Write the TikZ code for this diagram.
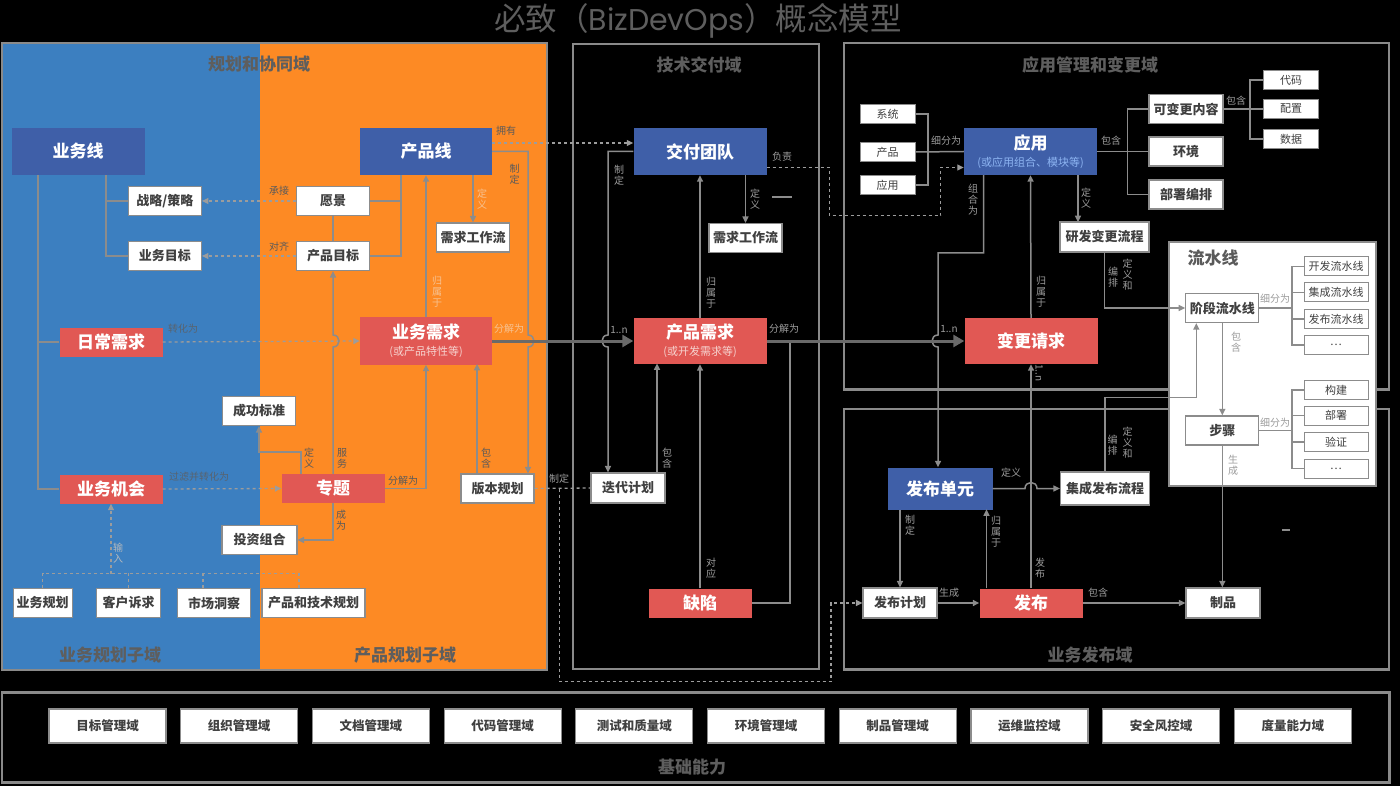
\documentclass[tikz,border=0pt]{standalone}
\usepackage{fontspec}
\setmainfont{Noto Sans CJK SC}
\newfontfamily\geofont{Poppins}
\usetikzlibrary{arrows.meta,positioning,calc}
\definecolor{bgblue}{HTML}{3C7FC0}
\definecolor{bgorange}{HTML}{FD8A24}
\definecolor{nblue}{HTML}{3F5FA8}
\definecolor{nred}{HTML}{E15854}
\definecolor{frame}{HTML}{8A8A8A}
\definecolor{wire}{HTML}{8C8C8C}
\definecolor{heavy}{HTML}{6A6A6A}
\definecolor{ttl}{HTML}{5E5E5E}
\definecolor{ink}{HTML}{404040}
\definecolor{lgray}{HTML}{9C9C9C}
\definecolor{ldark}{HTML}{5A5A5A}
\definecolor{lpale}{HTML}{F7C291}
\definecolor{lbluegray}{HTML}{58636F}
\definecolor{subred}{HTML}{F6D2CE}
\definecolor{subblue}{HTML}{8DB4F2}
\tikzset{
  dombox/.style={draw=frame, line width=2.5pt},
  dtitle/.style={font=\fontsize{17}{17}\selectfont\bfseries, text=ttl, inner sep=0pt},
  bignode/.style={minimum width=133pt, minimum height=47pt, inner sep=0pt, text=white, align=center, font=\fontsize{17}{19}\selectfont\bfseries},
  bluebox/.style={bignode, fill=nblue},
  redbox/.style={bignode, fill=nred, minimum width=103pt, minimum height=29pt},
  wbox/.style={draw=wire, fill=white, line width=1.2pt, minimum width=73pt, minimum height=29pt, inner sep=0pt, text=ink, font=\fontsize{13}{13}\selectfont\bfseries},
  sbox/.style={draw=wire, fill=white, line width=1pt, minimum width=55pt, minimum height=19pt, inner sep=0pt, text=ink, font=\fontsize{11}{11}\selectfont},
  conn/.style={draw=wire, line width=1.5pt},
  arr/.style={conn, -{Triangle[length=6.5pt,width=6pt]}},
  dline/.style={draw=lgray, line width=1.3pt, dash pattern=on 3pt off 3pt},
  darr/.style={dline, -{Triangle[length=6.5pt,width=6pt]}},
  heavyarr/.style={draw=heavy, line width=3pt, -{Triangle[length=11pt,width=12pt]}},
  lbl/.style={font=\fontsize{10}{11}\selectfont, text=lgray, inner sep=0pt, align=center},
}
\newcommand\subline[1]{{\fontsize{11}{12}\selectfont\mdseries #1}}

\begin{document}
\begin{tikzpicture}[x=1pt,y=-1pt]
\useasboundingbox (0,0) rectangle (1400,786);
\fill[black] (0,0) rectangle (1400,786);

\node[font=\fontsize{31.5}{32}\selectfont, text=ttl] (tMain) at (698,21)
  {必致（{\geofont\fontsize{30}{32}\selectfont BizDevOps}）概念模型};

% ============ domains ======================================================
\fill[bgblue] (2,43) rectangle (260,670);
\fill[bgorange] (260,43) rectangle (547,670);
\draw[dombox] (2,43) rectangle (547,670);
\draw[dombox] (573,44) rectangle (819,669);
\draw[dombox] (844,43) rectangle (1389,389.5);
\draw[dombox] (844,409) rectangle (1389,669.5);
\draw[dombox] (2,692.5) rectangle (1389.5,782.5);
\fill[white, draw=wire, line width=1.2pt] (1169,242) rectangle (1376,486);

\node[dtitle] (tPlan) at (259,64) {规划和协同域};
\node[dtitle] (tBizSub) at (110,655) {业务规划子域};
\node[dtitle] (tProdSub) at (405,655) {产品规划子域};
\node[dtitle] (tTech) at (699,65) {技术交付域};
\node[dtitle] (tApp) at (1090,65) {应用管理和变更域};
\node[dtitle] (tRel) at (1090,655) {业务发布域};
\node[dtitle] (tBase) at (692,767) {基础能力};
\node[dtitle, text=ldark] (tPipe) at (1213,258) {流水线};

% ============ planning and collaboration ===================================
\node[bluebox] (nBizLine) at (78,151.5) {业务线};
\node[wbox] (nStrategy) at (164.8,201) {战略/策略};
\node[wbox] (nBizGoal) at (164.8,256) {业务目标};
\node[redbox] (nDaily) at (111,342) {日常需求};
\node[redbox] (nOpp) at (111,489) {业务机会};
\node[wbox] (nSuccess) at (259,411) {成功标准};
\node[wbox, minimum width=75pt] (nPortfolio) at (259.5,540) {投资组合};
\node[wbox, minimum width=59pt] (nBizPlan) at (42.7,603) {业务规划};
\node[wbox, minimum width=64pt] (nCust) at (128.7,603) {客户诉求};
\node[wbox] (nMarket) at (214,603) {市场洞察};
\node[wbox, minimum width=103pt] (nProdTech) at (313.5,603) {产品和技术规划};

\node[bluebox, minimum width=132pt] (nProdLine) at (426,151.5) {产品线};
\node[wbox] (nVision) at (333,201) {愿景};
\node[wbox] (nProdGoal) at (333,256) {产品目标};
\node[wbox] (nFlowA) at (473,237.5) {需求工作流};
\node[redbox, minimum width=132pt, minimum height=47pt] (nBizReq) at (426,341)
  {业务需求\\[-2pt]\subline{\color{subred}(或产品特性等)}};
\node[redbox] (nTopic) at (333,488.5) {专题};
\node[wbox] (nRelPlan) at (497.5,488.5) {版本规划};

% ============ technical delivery (nodes) ===================================
\node[bluebox] (nTeam) at (700,151.5) {交付团队};
\node[wbox] (nFlowB) at (745.5,238) {需求工作流};
\node[redbox, minimum width=133pt, minimum height=46pt] (nProdReq) at (700,341)
  {产品需求\\[-2pt]\subline{\color{subred}(或开发需求等)}};
\node[wbox, minimum width=74pt, minimum height=30pt] (nIter) at (628,488) {迭代计划};
\node[redbox] (nDefect) at (700,603) {缺陷};

% ============ application management and change (nodes) ====================
\node[sbox] (nSys) at (887.5,114) {系统};
\node[sbox] (nProd) at (887.5,152) {产品};
\node[sbox] (nAppS) at (887.5,185) {应用};
\node[bluebox] (nApp) at (1030.5,151.5)
  {应用\\[-2pt]\subline{\color{subblue}(或应用组合、模块等)}};
\node[wbox, minimum width=74pt] (nChg) at (1186,109) {可变更内容};
\node[wbox, minimum width=74pt] (nEnv) at (1186,151.5) {环境};
\node[wbox, minimum width=74pt] (nDeploy) at (1186,194.5) {部署编排};
\node[sbox] (nCode) at (1291,80) {代码};
\node[sbox] (nConf) at (1291,109) {配置};
\node[sbox] (nData) at (1291,139) {数据};
\node[wbox, minimum width=89pt, minimum height=30pt] (nDevFlow) at (1104.5,237) {研发变更流程};
\node[redbox, minimum width=133pt, minimum height=46pt] (nCR) at (1031,341) {变更请求};

% ============ pipeline (nodes) =============================================
\node[wbox] (nStage) at (1222.3,308) {阶段流水线};
\node[sbox, minimum width=64pt] (nDevP) at (1336,266.5) {开发流水线};
\node[sbox, minimum width=64pt] (nIntP) at (1336,292.5) {集成流水线};
\node[sbox, minimum width=64pt] (nRelP) at (1336,319) {发布流水线};
\node[sbox, minimum width=64pt] (nDotsA) at (1336,345) {…};
\node[wbox] (nStep) at (1222.3,430.5) {步骤};
\node[sbox, minimum width=64pt] (nBuild) at (1336,390) {构建};
\node[sbox, minimum width=64pt] (nDepl) at (1336,415.5) {部署};
\node[sbox, minimum width=64pt] (nVerify) at (1336,442) {验证};
\node[sbox, minimum width=64pt] (nDotsB) at (1336,468.5) {…};

% ============ business release (nodes) =====================================
\node[bluebox, minimum width=105pt, minimum height=42pt] (nUnit) at (940,488.5) {发布单元};
\node[wbox, minimum width=89pt, minimum height=33pt] (nIntRel) at (1105,488.5) {集成发布流程};
\node[wbox, minimum width=74pt, minimum height=30pt] (nRelPlanB) at (900,603) {发布计划};
\node[redbox] (nRelease) at (1031,603) {发布};
\node[wbox, minimum width=74pt, minimum height=30pt] (nArtifact) at (1223,603) {制品};

% ============ planning connectors ==========================================
\draw[conn] ([xshift=-40pt]nBizLine.south) |- (nOpp.west);
\draw[conn] (nDaily.west) -- ++(-22,0);
\draw[conn] ([xshift=28pt]nBizLine.south) |- (nBizGoal.west);
\draw[conn] (nStrategy.west) -- ++(-22.8,0);
\draw[darr] (nVision.west) -- (nStrategy.east);
\draw[darr] (nProdGoal.west) -- (nBizGoal.east);
\draw[conn] ([xshift=-25pt]nProdLine.south) |- (nProdGoal.east);
\draw[conn] (nVision.east) -- ++(32,0);
\draw[conn] (nVision.south) -- (nProdGoal.north);
\draw[arr] (nBizReq.north) -- (nProdLine.south);
\draw[arr] (nProdLine.south -| nFlowA.north) -- (nFlowA.north);
\draw[arr] (nProdLine.east) -| (528,335) .. controls (536,335) and (536,347) .. (528,347)
  -- ([xshift=30.5pt]nRelPlan.north);
\draw[darr] ([yshift=8.5pt]nProdLine.east) -- ([yshift=8.5pt]nTeam.west);
\draw[darr] (nDaily.east) -- (nBizReq.west);
\draw[darr] (nOpp.east) -- (nTopic.west);
\draw[arr] (nTopic.north) -- (333,347) .. controls (341,347) and (341,335) .. (333,335)
  -- (nProdGoal.south);
\draw[arr] ([xshift=-32pt]nTopic.north) -- ++(0,-22) -| (nSuccess.south);
\draw[arr] (nTopic.east) -| (nBizReq.south);
\draw[arr] (nTopic.south) |- (nPortfolio.east);
\draw[arr] ([xshift=-20.5pt]nRelPlan.north) -- ++(0,-109.5);
% inputs to the business opportunity
\coordinate (cIn) at (111,574);
\draw[darr] (cIn) -- (nOpp.south);
\draw[dline] (nBizPlan.north) -- ++(0,-14.5) -| ([xshift=-14.5pt]nProdTech.north);
\draw[dline] (nCust.north) -- ++(0,-14.5);
\draw[dline] ([xshift=-11pt]nMarket.north) -- ++(0,-14.5);

\node[lbl, text=ldark] (lA1) at (279,191) {承接};
\node[lbl, text=ldark] (lA2) at (279,247) {对齐};
\node[lbl, text=ldark] (lA3) at (506,131) {拥有};
\node[lbl, text=ldark] (lA4) at (514.6,174) {制\\定};
\node[lbl, text=lpale] (lA5) at (482,199) {定\\义};
\node[lbl, text=lpale] (lA6) at (437,292) {归\\属\\于};
\node[lbl, text=lpale] (lA7) at (509,329) {分解为};
\node[lbl, text=lbluegray] (lA8) at (183,329) {转化为};
\node[lbl, text=lbluegray] (lA9) at (199,477) {过滤并转化为};
\node[lbl, text=ldark] (lA10) at (309,458) {定\\义};
\node[lbl, text=ldark] (lA11) at (342,458) {服\\务};
\node[lbl, text=ldark] (lA12) at (486,458) {包\\含};
\node[lbl, text=ldark] (lA13) at (403,481) {分解为};
\node[lbl, text=ldark] (lA14) at (341,520) {成\\为};
\node[lbl, text=lbluegray!45!white] (lA15) at (118,553) {输\\入};
\node[lbl] (lA16) at (559,479) {制定};

% ============ technical delivery connectors ================================
\draw[arr] (nTeam.west) -| (608,335) .. controls (600,335) and (600,347) .. (608,347)
  -- ([xshift=-20pt]nIter.north);
\draw[arr] (nTeam.south -| nFlowB.north) -- (nFlowB.north);
\draw[arr] (nProdReq.north) -- (nTeam.south);
\draw[darr] ([yshift=-16pt]nTeam.east) -| (829.3,215.7) -| (940.7,167.5) -- ([yshift=-16pt]nApp.west);
\draw[conn] (nDefect.east) -| ([xshift=23.5pt]nProdReq.east);
\draw[arr] ([xshift=29pt]nIter.north) -- ++(0,-109);
\draw[arr] (nDefect.north) -- (nProdReq.south);
\draw[dline] (nRelPlan.east) -- (nIter.west);
\coordinate (cLoop) at (831,681.5);
\draw[darr] ([xshift=25pt]nRelPlan.east) |- (cLoop) |- (nRelPlanB.west);
\draw[conn] (772,197) -- (792,197);

\node[lbl] (lB1) at (619,175) {制\\定};
\node[lbl] (lB2) at (782,157) {负责};
\node[lbl] (lB3) at (755,199) {定\\义};
\node[lbl] (lB4) at (711,293) {归\\属\\于};
\node[lbl] (lB5) at (619,330) {1..n};
\node[lbl] (lB6) at (784,329) {分解为};
\node[lbl] (lB7) at (667,458) {包\\含};
\node[lbl] (lB8) at (711,568) {对\\应};

% ============ application connectors =======================================
\draw[conn] (nSys.east) -- ++(12.5,0) |- (nAppS.east);
\draw[conn] (nProd.east) -- (nApp.west);
\draw[conn] (nApp.east) -- (nEnv.west);
\draw[conn] (nChg.west) -- ++(-21,0) |- (nDeploy.west);
\draw[conn] (nChg.east) -- (nConf.west);
\draw[conn] (nCode.west) -- ++(-13,0) |- (nData.west);
\draw[arr] ([xshift=47.5pt]nApp.south) -- ++(0,47);
\draw[arr] ([xshift=-47pt]nApp.south) |- (938,253) -- (938,335)
  .. controls (930,335) and (930,347) .. (938,347) -- ([xshift=-2pt]nUnit.north);
\draw[arr] (nCR.north) -- (nApp.south);
\draw[heavyarr] (nBizReq.east) -- (nProdReq.west);
\draw[heavyarr] (nProdReq.east) -- (nCR.west);

\node[lbl] (lC1) at (946,141) {细分为};
\node[lbl] (lC2) at (1111,141) {包含};
\node[lbl] (lC3) at (1236,101) {包含};
\node[lbl] (lC4) at (973,200) {组\\合\\为};
\node[lbl] (lC5) at (1086,198) {定\\义};
\node[lbl] (lC6) at (1041,292) {归\\属\\于};
\node[lbl] (lC7) at (949,329) {1..n};
\node[lbl, rotate=-90] (lC8) at (1039,373) {1..n};
\node[lbl] (lC9) at (1113,277) {编\\排};
\node[lbl] (lC10) at (1127.5,275) {定\\义\\和};

% ============ pipeline connectors ==========================================
\draw[conn] (nStage.east) -- ++(33.5,0);
\draw[conn] (nDevP.west) -- ++(-11.5,0) |- (nDotsA.west);
\draw[conn] (nIntP.west) -- ++(-11.5,0);
\draw[conn] (nRelP.west) -- ++(-11.5,0);
\draw[conn] (nStep.east) -- ++(33.5,0);
\draw[conn] (nBuild.west) -- ++(-11.5,0) |- (nDotsB.west);
\draw[conn] (nDepl.west) -- ++(-11.5,0);
\draw[conn] (nVerify.west) -- ++(-11.5,0);
\draw[arr] (nStage.south) -- (nStep.north);
\draw[arr] (nDevFlow.south) |- (nStage.west);

\node[lbl] (lD1) at (1275,299) {细分为};
\node[lbl] (lD2) at (1236,342) {包\\含};
\node[lbl] (lD3) at (1275,423) {细分为};

% ============ business release connectors ==================================
\draw[arr] (nUnit.east) -- (1025,488.5) .. controls (1025,480.5) and (1037,480.5) .. (1037,488.5)
  -- (nIntRel.west);
\draw[arr] (nIntRel.north) -- ++(0,-74) -| ([xshift=-26pt]nStage.south);
\draw[arr] (nRelPlanB.north |- nUnit.south) -- (nRelPlanB.north);
\draw[arr] ([xshift=-44.5pt]nRelease.north) -- ++(0,-79);
\draw[arr] (nRelease.north) -- (nCR.south);
\draw[arr] (nRelPlanB.east) -- (nRelease.west);
\draw[arr] (nRelease.east) -- (nArtifact.west);
\draw[arr] (nStep.south) -- (nStep.south |- nArtifact.north);
\draw[conn] (1282,530) -- (1290,530);

\node[lbl] (lE1) at (1112.5,445) {编\\排};
\node[lbl] (lE2) at (1127.5,443) {定\\义\\和};
\node[lbl] (lE3) at (1011,473) {定义};
\node[lbl] (lE4) at (910,525) {制\\定};
\node[lbl] (lE5) at (996,532) {归\\属\\于};
\node[lbl] (lE6) at (1040,568) {发\\布};
\node[lbl] (lE7) at (949,593) {生成};
\node[lbl] (lE8) at (1098,593) {包含};
\node[lbl] (lE9) at (1233,465) {生\\成};

% ============ foundation ===================================================
\foreach \t [count=\i from 0] in {目标管理域,组织管理域,文档管理域,代码管理域,测试和质量域,环境管理域,制品管理域,运维监控域,安全风控域,度量能力域}
  \node[wbox, minimum width=117pt, minimum height=34pt, font=\fontsize{12.5}{13}\selectfont\bfseries] (nBase\i) at ({107.5+131.7*\i},726) {\t};

\end{tikzpicture}
\end{document}
